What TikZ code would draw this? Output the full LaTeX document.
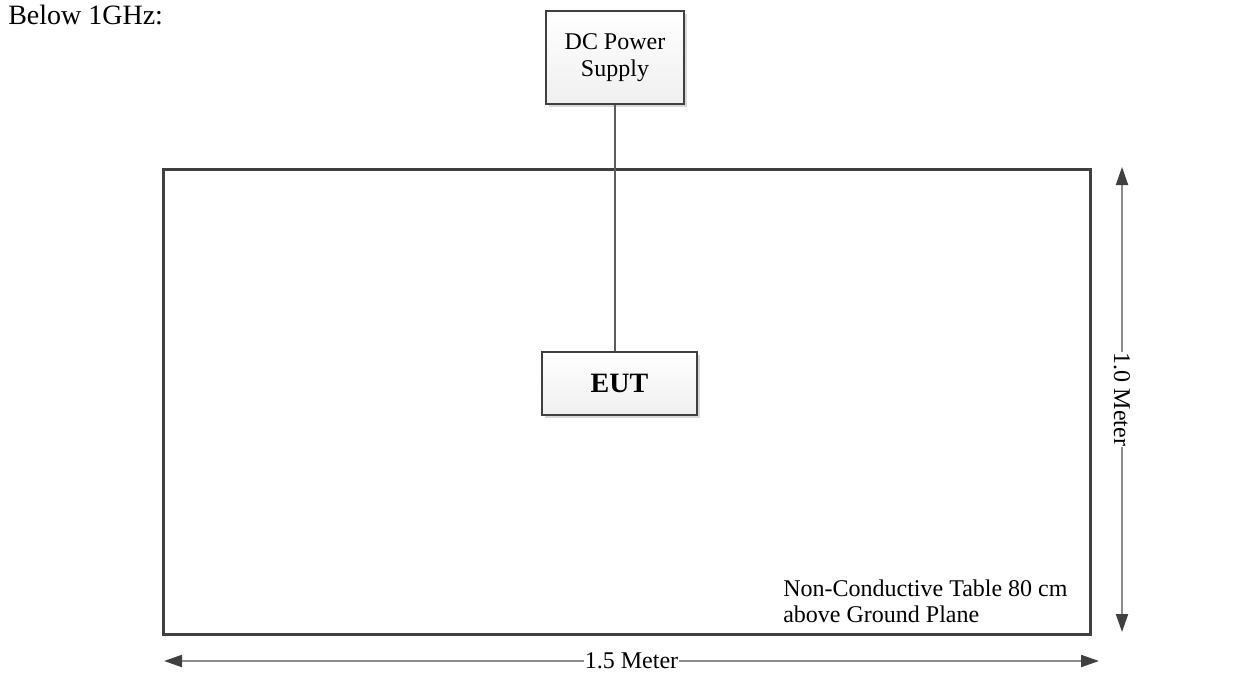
\documentclass[tikz,border=0pt]{standalone}
\usepackage{fontspec}
\setmainfont{Liberation Serif}
\usetikzlibrary{arrows.meta,shadows}
\definecolor{boxline}{HTML}{404040}
\definecolor{dimline}{HTML}{8C8C8C}
\definecolor{shadowc}{HTML}{D9D9D9}
\begin{document}
\begin{tikzpicture}[x=0.75pt,y=-0.75pt,
  txt/.style={font=\fontsize{18pt}{20pt}\selectfont, inner sep=0pt},
  devbox/.style={draw=boxline, line width=1.5pt, top color=white, bottom color=gray!12,
    drop shadow={shadow xshift=2pt, shadow yshift=-2.2pt, fill=shadowc, opacity=1},
    align=center, inner sep=0pt},
  dimarrow/.style={draw=dimline, line width=1.5pt, {Triangle[length=13.5pt,width=9pt,color=boxline]}-{Triangle[length=13.5pt,width=9pt,color=boxline]}},
  dimlabel/.style={txt, fill=white, inner xsep=1pt, inner ysep=2pt}]
\useasboundingbox (0,0) rectangle (1239,682);
% table
\draw[boxline, line width=2.25pt] (163,169) rectangle (1090,634);
\node[txt, anchor=base west, font=\fontsize{21pt}{24pt}\selectfont] (title) at (8,24) {Below 1GHz:};
\node[devbox, txt, minimum width=103.5pt, minimum height=69.75pt] (dc) at (615,57.5) {\raisebox{-3pt}{\parbox{90pt}{\centering DC Power\\Supply}}};
\node[devbox, minimum width=116.25pt, minimum height=47.25pt, font=\fontsize{21pt}{24pt}\selectfont\bfseries] (eut) at (619.5,383.5) {EUT};
\draw[boxline!85, line width=0.9pt] (dc.south) -- (dc.south |- eut.north);
\node[txt, anchor=base west, align=left, font=\fontsize{18pt}{19.5pt}\selectfont] (tbl) at (783,622) {Non-Conductive Table 80 cm\\above Ground Plane};
% dimensions
\coordinate (vt) at (1122,167);
\coordinate (vb) at (1122,632);
\coordinate (hl) at (164,661);
\coordinate (hr) at (1099,661);
\draw[dimarrow] (vt) -- node[dimlabel, rotate=-90] (vlab) {1.0 Meter} (vb);
\draw[dimarrow] (hl) -- node[dimlabel] (hlab) {1.5 Meter} (hr);
\end{tikzpicture}
\end{document}
